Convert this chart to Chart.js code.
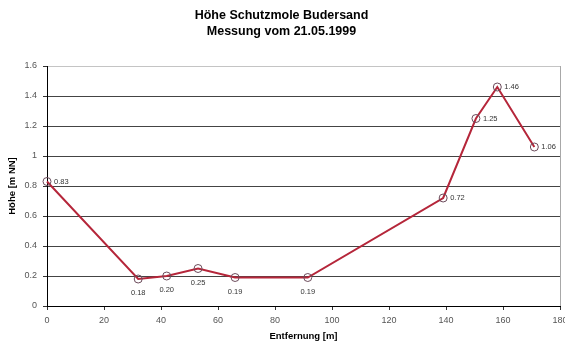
<!DOCTYPE html>
<html>
<head>
<meta charset="utf-8">
<script src="https://cdn.jsdelivr.net/npm/chart.js@4/dist/chart.umd.min.js"></script>
<style>
  html, body { margin: 0; padding: 0; background: #fff; }
  #wrap { width: 565px; height: 345px; }
</style>
</head>
<body>
<div id="wrap"><canvas id="c" width="565" height="345"></canvas></div>
<script>
// Survey of the Budersand breakwater: distance along the mole and crest height
const distances = [0, 32, 42, 53, 66, 91.5, 139, 150.5, 158, 171];
const heights = [0.83, 0.18, 0.20, 0.25, 0.19, 0.19, 0.72, 1.25, 1.46, 1.06];

const titleLines = ['Höhe Schutzmole Budersand', 'Messung vom 21.05.1999'];
const xAxisTitle = 'Entfernung [m]';
const yAxisTitle = 'Höhe [m NN]';
const xTickValues = [0, 20, 40, 60, 80, 100, 120, 140, 160, 180];
const yTickValues = [0, 0.2, 0.4, 0.6, 0.8, 1, 1.2, 1.4, 1.6];

const FONT = '"Liberation Sans", Arial, sans-serif';

// Value labels next to each measured point (low points get their label underneath)
const valueLabels = {
  id: 'valueLabels',
  afterDatasetsDraw(chart) {
    const { ctx } = chart;
    const meta = chart.getDatasetMeta(0);
    ctx.save();
    ctx.font = '7.5px ' + FONT;
    ctx.fillStyle = '#333';
    ctx.textBaseline = 'middle';
    meta.data.forEach((pt, i) => {
      const v = heights[i];
      const txt = v.toFixed(2);
      if (v < 0.5) {
        ctx.textAlign = 'center';
        ctx.fillText(txt, pt.x, pt.y + 14);
      } else {
        ctx.textAlign = 'left';
        ctx.fillText(txt, pt.x + 7, pt.y);
      }
    });
    ctx.restore();
  }
};

new Chart(document.getElementById('c'), {
  type: 'scatter',
  data: {
    datasets: [{
      data: distances.map((d, i) => ({ x: d, y: heights[i] })),
      showLine: true,
      borderColor: '#b5263a',
      borderWidth: 2,
      pointRadius: 4,
      pointBorderWidth: 1,
      pointBorderColor: '#6b4a5a',
      pointBackgroundColor: 'rgba(255,255,255,0)',
      clip: false
    }]
  },
  options: {
    responsive: false,
    animation: false,
    devicePixelRatio: 1,
    layout: { padding: { left: 0, right: 2, top: 0, bottom: 0 } },
    plugins: {
      legend: { display: false },
      tooltip: { enabled: false },
      title: {
        display: true,
        text: titleLines,
        color: '#000',
        font: { family: FONT, size: 12.5, weight: 'bold', lineHeight: '16px' },
        padding: { top: 8, bottom: 26 }
      }
    },
    scales: {
      x: {
        type: 'linear',
        min: 0,
        max: 180,
        afterBuildTicks: s => { s.ticks = xTickValues.map(v => ({ value: v })); },
        afterFit: s => { s.height = 39; s.paddingLeft = 0; s.paddingRight = 0; },
        ticks: {
          color: '#555',
          font: { family: FONT, size: 9 },
          padding: 5,
          maxRotation: 0,
          autoSkip: false
        },
        grid: {
          color: c => (c.tick && c.tick.value === 180) ? '#a8a8a8' : 'rgba(0,0,0,0)',
          tickColor: '#333',
          tickLength: 4
        },
        border: { display: true, color: '#000', width: 1 },
        title: {
          display: true,
          text: xAxisTitle,
          color: '#000',
          font: { family: FONT, size: 9.5, weight: 'bold' },
          padding: { top: 0, bottom: 3.3 }
        }
      },
      y: {
        min: 0,
        max: 1.6,
        afterBuildTicks: s => { s.ticks = yTickValues.map(v => ({ value: v })); },
        afterFit: s => { s.width = 47; s.paddingTop = 0; s.paddingBottom = 0; },
        ticks: {
          color: '#555',
          font: { family: FONT, size: 9 },
          padding: 6,
          callback: v => String(v)
        },
        grid: {
          color: c => {
            const v = c.tick ? c.tick.value : 0;
            if (v >= 1.6) return '#c4c4c4';
            return '#444';
          },
          tickColor: '#333',
          tickLength: 4
        },
        border: { display: true, color: '#000', width: 1 },
        title: {
          display: true,
          text: yAxisTitle,
          color: '#000',
          font: { family: FONT, size: 9.5, weight: 'bold' },
          padding: { top: 6.3, bottom: 0 }
        }
      }
    }
  },
  plugins: [valueLabels]
});
</script>
</body>
</html>
